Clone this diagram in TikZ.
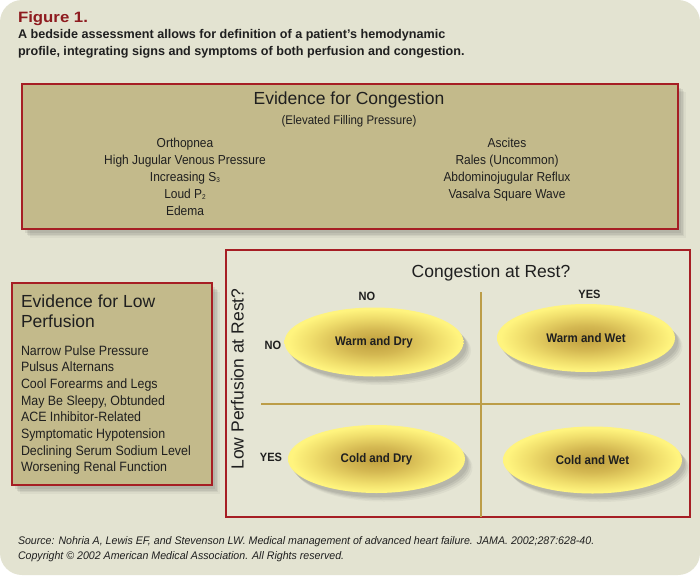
\documentclass[tikz,border=0pt]{standalone}
\usepackage{fontspec}
\setmainfont{Liberation Sans}
\newfontfamily\nar[FakeStretch=0.92]{Liberation Sans}
\newfontfamily\ftn[FakeStretch=0.965]{Liberation Sans}
\newfontfamily\figf[FakeStretch=1.12]{Liberation Sans}
\usetikzlibrary{shapes.geometric,shadows}
\definecolor{bgc}{HTML}{E3E3D1}
\definecolor{gridc}{HTML}{E5E5D4}
\definecolor{boxc}{HTML}{C3BA8B}
\definecolor{redb}{HTML}{A61E24}
\definecolor{figred}{HTML}{8E1B1F}
\definecolor{gline}{HTML}{BC9D48}
\definecolor{txt}{HTML}{1F1F1F}
\definecolor{ellA}{HTML}{BF9F3E}
\definecolor{ellB}{HTML}{D4B852}
\definecolor{ellC}{HTML}{F0DE6C}
\definecolor{ellD}{HTML}{FFF47E}
\pgfdeclareradialshading{ellshade}{\pgfpoint{0bp}{0bp}}{color(0bp)=(ellA); color(9bp)=(ellB); color(18bp)=(ellC); color(24bp)=(ellD); color(50bp)=(ellD)}
\tikzset{
  bshadow/.style={
    drop shadow={shadow xshift=3pt,shadow yshift=-4pt,opacity=0.10,fill=black!70},
    drop shadow={shadow xshift=4.5pt,shadow yshift=-5.5pt,opacity=0.10,fill=black!70},
    drop shadow={shadow xshift=6pt,shadow yshift=-7pt,opacity=0.08,fill=black!70},
    drop shadow={shadow xshift=7.5pt,shadow yshift=-8.5pt,opacity=0.06,fill=black!70}},
  panel/.style={draw=redb, line width=1.3pt, fill=boxc, bshadow, anchor=north west},
  gridbox/.style={draw=redb, line width=1.3pt, fill=gridc, anchor=north west},
  oval/.style={ellipse, shading=ellshade, bshadow, font=\nar\bfseries\fontsize{12.5}{14}\selectfont},
  figt/.style={font=\figf\bfseries\fontsize{15}{18}\selectfont, text=figred},
  capt/.style={font=\bfseries\fontsize{12.6}{15}\selectfont},
  head/.style={font=\fontsize{17.5}{20}\selectfont},
  body/.style={font=\nar\fontsize{13}{16}\selectfont},
  lbody/.style={font=\nar\fontsize{13.5}{16}\selectfont},
  yn/.style={font=\nar\bfseries\fontsize{12}{14}\selectfont},
  foot/.style={font=\ftn\itshape\fontsize{11}{13}\selectfont},
  gl/.style={draw=gline, line width=1.2pt}
}
\newcommand{\sbs}[1]{{\fontsize{7}{7}\selectfont\raisebox{-1pt}{#1}}}
\begin{document}
\begin{tikzpicture}[x=1pt,y=-1pt, every node/.style={inner sep=0pt, outer sep=0pt, text=txt}]
\useasboundingbox (0,0) rectangle (700,575);
\fill[white] (0,0) rectangle (700,575);
\fill[bgc, rounded corners=22pt] (0,0) rectangle (700,575);

% header
\node[figt, anchor=base west] (fig) at (18,22.7) {Figure 1.};
\node[capt, anchor=base west] (cap1) at (18,38.5) {A bedside assessment allows for definition of a patient’s hemodynamic};
\node[capt, anchor=base west] (cap2) at (18,56) {profile, integrating signs and symptoms of both perfusion and congestion.};

% congestion box
\node[panel, minimum width=656pt, minimum height=145pt] (cong) at (22,84) {};
\node[head, anchor=base] (ctitle) at (349,105) {Evidence for Congestion};
\node[body, font=\nar\fontsize{12.5}{15}\selectfont, anchor=base] (csub) at (349,124.5) {(Elevated Filling Pressure)};
\node[body, anchor=base] (cl1) at (185,147.5) {Orthopnea};
\node[body, anchor=base] (cl2) at (185,164.5) {High Jugular Venous Pressure};
\node[body, anchor=base] (cl3) at (185,181.5) {Increasing S\sbs{3}};
\node[body, anchor=base] (cl4) at (185,198.5) {Loud P\sbs{2}};
\node[body, anchor=base] (cl5) at (185,215.5) {Edema};
\node[body, anchor=base] (cr1) at (507,147.5) {Ascites};
\node[body, anchor=base] (cr2) at (507,164.5) {Rales (Uncommon)};
\node[body, anchor=base] (cr3) at (507,181.5) {Abdominojugular Reflux};
\node[body, anchor=base] (cr4) at (507,198.5) {Vasalva Square Wave};

% low perfusion box
\node[panel, minimum width=200pt, minimum height=202pt] (lowp) at (12,283) {};
\node[head, anchor=base west] (lt1) at (21,307.7) {Evidence for Low};
\node[head, anchor=base west] (lt2) at (21,327.7) {Perfusion};
\node[lbody, anchor=base west] (l1) at (21,355) {Narrow Pulse Pressure};
\node[lbody, anchor=base west] (l2) at (21,371.7) {Pulsus Alternans};
\node[lbody, anchor=base west] (l3) at (21,388.3) {Cool Forearms and Legs};
\node[lbody, anchor=base west] (l4) at (21,405) {May Be Sleepy, Obtunded};
\node[lbody, anchor=base west] (l5) at (21,421.7) {ACE Inhibitor-Related};
\node[lbody, anchor=base west] (l6) at (21,438.3) {Symptomatic Hypotension};
\node[lbody, anchor=base west] (l7) at (21,455) {Declining Serum Sodium Level};
\node[lbody, anchor=base west] (l8) at (21,471.7) {Worsening Renal Function};

% grid box
\node[gridbox, minimum width=464pt, minimum height=267pt] (grid) at (226,250) {};
\coordinate (vtop) at (481,292);
\coordinate (vbot) at (481,517);
\coordinate (hl) at (261,404);
\coordinate (hr) at (680,404);
\draw[gl] (vtop) -- (vbot);
\draw[gl] (hl) -- (hr);
\node[head, anchor=base] (crest) at (491,277.5) {Congestion at Rest?};
\node[head, anchor=base, rotate=90] (lprest) at (243.5,379) {Low Perfusion at Rest?};
\node[yn, anchor=base] (cno) at (367,300) {NO};
\node[yn, anchor=base] (cyes) at (589.5,298) {YES};
\node[yn, anchor=base] (pno) at (273,349) {NO};
\node[yn, anchor=base] (pyes) at (271,461.5) {YES};

\node[oval, minimum width=179pt, minimum height=69pt] (wd) at (374,342) {Warm and Dry};
\node[oval, minimum width=178pt, minimum height=68pt] (ww) at (586,338) {Warm and Wet};
\node[oval, minimum width=177pt, minimum height=68pt] (cd) at (376.5,459) {Cold and Dry};
\node[oval, minimum width=179pt, minimum height=67pt] (cw) at (592.5,460) {Cold and Wet};

% footer
\node[foot, anchor=base west] (src) at (18,544.5) {Source: Nohria A, Lewis EF, and Stevenson LW. Medical management of advanced heart failure. JAMA. 2002;287:628-40.};
\node[foot, anchor=base west] (copy) at (18,559) {Copyright © 2002 American Medical Association. All Rights reserved.};
\end{tikzpicture}
\end{document}
